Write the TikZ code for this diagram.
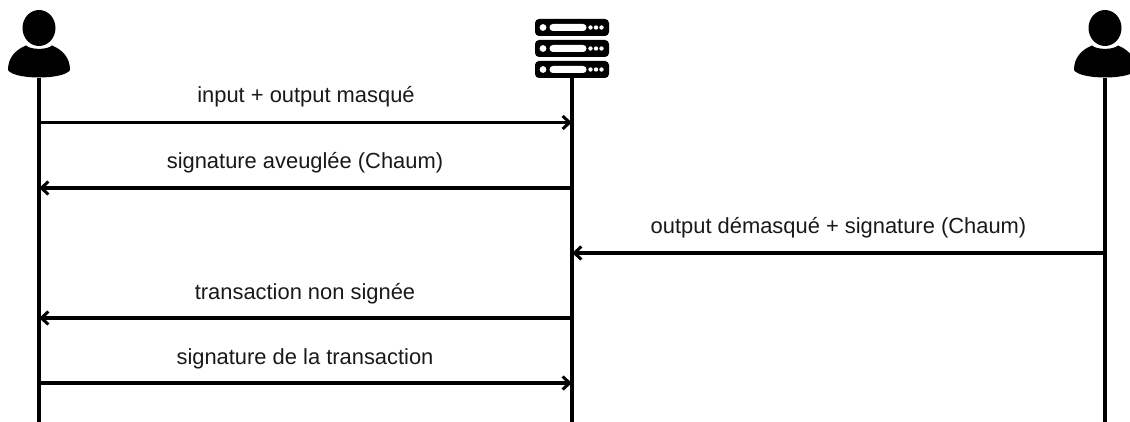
\documentclass[tikz,border=0pt]{standalone}
\usepackage{fontspec}
\setmainfont{Liberation Sans}
\usetikzlibrary{arrows.meta}
\tikzset{
  life/.style={line width=3.2pt,black},
  msg/.style={line width=3.2pt,black,-{Straight Barb[length=7pt,width=13pt,line width=3pt]}},
  lbl/.style={font=\fontsize{21.9}{25}\selectfont,text=black!90,inner sep=0pt,anchor=base},
  pt/.style={inner sep=0pt,minimum size=0pt}
}
\newcommand{\persona}[1]{%
  \fill[black] (#1,28) ellipse [x radius=16.5,y radius=18];
  \fill[black,shift={(#1,0)}] (-31,70) .. controls (-31,58) and (-24,50) .. (-13,45.5)
     .. controls (-8,50) and (8,50) .. (13,45.5)
     .. controls (24,50) and (31,58) .. (31,70)
     .. controls (25,80) and (-25,80) .. (-31,70) -- cycle;
}
\newcommand{\srvrow}[1]{%
  \fill[black,rounded corners=4pt] (535,#1) rectangle (609,#1+17);
  \fill[white] (543,#1+8.5) circle [radius=3.4];
  \fill[white,rounded corners=3.4pt] (549.5,#1+5) rectangle (586.5,#1+12);
  \fill[white] (590.5,#1+8.5) circle [radius=2.2];
  \fill[white] (596,#1+8.5) circle [radius=2.2];
  \fill[white] (601.5,#1+8.5) circle [radius=2.2];
}
\begin{document}
\begin{tikzpicture}[x=1pt,y=-1pt]
\useasboundingbox (0,0) rectangle (1130,422);
\clip (0,0) rectangle (1130,422);
\persona{39}
\persona{1105}
\srvrow{19}
\srvrow{40}
\srvrow{61}
\coordinate (at) at (39,78);
\coordinate (ab) at (39,422);
\coordinate (st) at (572,78);
\coordinate (sb) at (572,422);
\coordinate (bt) at (1105,78);
\coordinate (bb) at (1105,422);
\draw[life] (at) -- (ab);
\draw[life] (st) -- (sb);
\draw[life] (bt) -- (bb);
\node[pt] (a1) at (39,122.5) {};
\node[pt] (s1) at (572,122.5) {};
\node[pt] (a2) at (39,188) {};
\node[pt] (s2) at (572,188) {};
\node[pt] (s3) at (572,253) {};
\node[pt] (b3) at (1105,253) {};
\node[pt] (a4) at (39,318) {};
\node[pt] (s4) at (572,318) {};
\node[pt] (a5) at (39,383) {};
\node[pt] (s5) at (572,383) {};
\draw[msg] (a1) -- (s1);
\draw[msg] (s2) -- (a2);
\draw[msg] (b3) -- (s3);
\draw[msg] (s4) -- (a4);
\draw[msg] (a5) -- (s5);
\node[lbl] (l1) at (306,103) {input + output masqué};
\node[lbl] (l2) at (305,169) {signature aveuglée (Chaum)};
\node[lbl] (l3) at (838.5,234) {output démasqué + signature (Chaum)};
\node[lbl] (l4) at (305,299) {transaction non signée};
\node[lbl] (l5) at (305,364) {signature de la transaction};
\end{tikzpicture}
\end{document}
